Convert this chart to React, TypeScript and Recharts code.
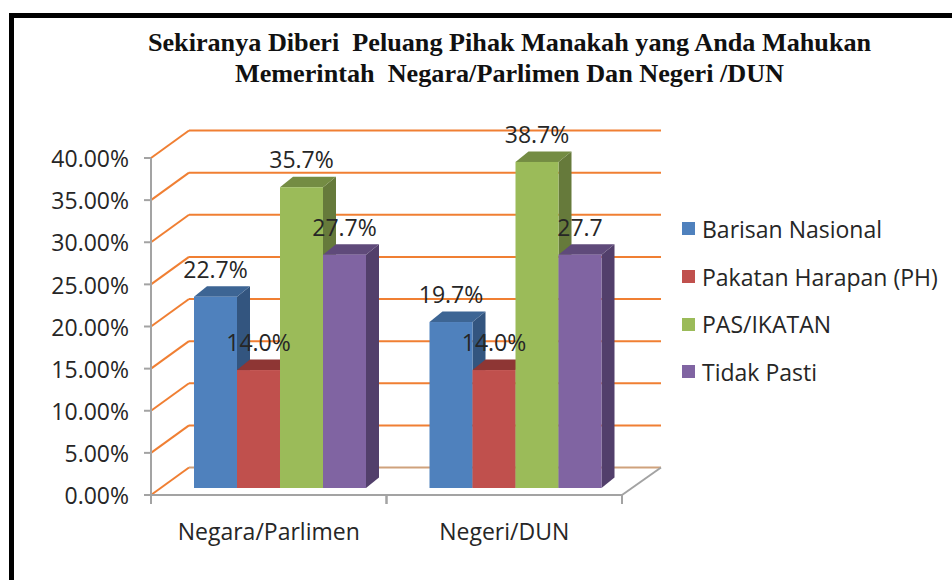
import { Bar, CartesianGrid, ComposedChart, LabelList, Legend, XAxis, YAxis } from "recharts";

// ── Data ─────────────────────────────────────────────────────────────
const categories = ["Negara/Parlimen", "Negeri/DUN"];
const barisanNasional = [22.7, 19.7];
const pakatanHarapan = [14.0, 14.0];
const pasIkatan = [35.7, 38.7];
const tidakPasti = [27.7, 27.7];
const yTicks = [0, 5, 10, 15, 20, 25, 30, 35, 40];

// the source chart drops the % on one label
const barisanLabels = ["22.7%", "19.7%"];
const pakatanLabels = ["14.0%", "14.0%"];
const pasLabels = ["35.7%", "38.7%"];
const tidakPastiLabels = ["27.7%", "27.7"];

const titleLines = [
  "Sekiranya Diberi  Peluang Pihak Manakah yang Anda Mahukan",
  "Memerintah  Negara/Parlimen Dan Negeri /DUN",
];

const rows = categories.map((name, i) => ({
  name,
  barisan: barisanNasional[i],
  pakatan: pakatanHarapan[i],
  pas: pasIkatan[i],
  tidak: tidakPasti[i],
}));

const seriesList = [
  { key: "barisan", name: "Barisan Nasional", front: "#4F81BD", top: "#3D6594", side: "#33557F", labels: barisanLabels },
  { key: "pakatan", name: "Pakatan Harapan (PH)", front: "#C0504D", top: "#8E3634", side: "#7A2E2C", labels: pakatanLabels },
  { key: "pas", name: "PAS/IKATAN", front: "#9BBB59", top: "#748C43", side: "#667A3B", labels: pasLabels },
  { key: "tidak", name: "Tidak Pasti", front: "#8064A2", top: "#5F4A7A", side: "#523F6B", labels: tidakPastiLabels },
];

// ── Layout ───────────────────────────────────────────────────────────
const WIDTH = 952;
const HEIGHT = 580;
const PLOT = { left: 151, right: 622, top: 158, bottom: 495 };
const BAND = (PLOT.right - PLOT.left) / categories.length;

// 3D look: back wall offset, and where the bars stand on the floor
const WALL_DX = 38;
const WALL_DY = 27.5;
const BAR_SHIFT_X = 12;
const BAR_SHIFT_Y = -7;
const DEPTH_DX = 13;
const DEPTH_DY = 10.5;

const AXIS_GREY = "#A3A3A3";
const GRID_ORANGE = "#F07F33";
const FLOOR_TAN = "#CFA27C";
const TEXT = "#262626";
const FONT = "'Open Sans', sans-serif";
const FONT_SIZE = 23;

function GridLine3D(props: any) {
  const { x1, x2, y1 } = props;
  const isFloor = Math.abs(y1 - PLOT.bottom) < 1;
  const bx1 = x1 + WALL_DX;
  const bx2 = x2 + WALL_DX + 1;
  const by = y1 - WALL_DY;
  return (
    <g>
      <line x1={x1} y1={y1} x2={bx1} y2={by} stroke={GRID_ORANGE} strokeWidth={2} />
      <line x1={bx1} y1={by} x2={bx2} y2={by} stroke={isFloor ? FLOOR_TAN : GRID_ORANGE} strokeWidth={2} />
      {isFloor ? <line x1={bx2} y1={by} x2={x2} y2={y1} stroke={AXIS_GREY} strokeWidth={2} /> : null}
    </g>
  );
}

function Bar3D(props: any) {
  const { x, y, width, height, front, top, side } = props;
  const l = x + BAR_SHIFT_X;
  const r = l + width;
  const t = y + BAR_SHIFT_Y;
  const b = t + height;
  return (
    <g>
      <polygon points={`${r},${t} ${r + DEPTH_DX},${t - DEPTH_DY} ${r + DEPTH_DX},${b - DEPTH_DY} ${r},${b}`} fill={side} />
      <polygon points={`${l},${t} ${l + DEPTH_DX},${t - DEPTH_DY} ${r + DEPTH_DX},${t - DEPTH_DY} ${r},${t}`} fill={top} />
      <rect x={l} y={t} width={width} height={height} fill={front} />
    </g>
  );
}

function ValueLabel(props: any) {
  const { x, y, width, index, labels } = props;
  return (
    <text
      x={x + BAR_SHIFT_X + width / 2}
      y={y + BAR_SHIFT_Y - 28}
      textAnchor="middle"
      dominantBaseline="central"
      fontFamily={FONT}
      fontSize={FONT_SIZE}
      fill={TEXT}
    >
      {labels[index]}
    </text>
  );
}

function CategoryTick(props: any) {
  const { x, payload } = props;
  return (
    <g>
      <line x1={x - BAND / 2} y1={PLOT.bottom} x2={x - BAND / 2} y2={PLOT.bottom + 9} stroke={AXIS_GREY} strokeWidth={2} />
      <line x1={x + BAND / 2} y1={PLOT.bottom} x2={x + BAND / 2} y2={PLOT.bottom + 9} stroke={AXIS_GREY} strokeWidth={2} />
      <text x={x} y={531} textAnchor="middle" dominantBaseline="central" fontFamily={FONT} fontSize={FONT_SIZE} fill={TEXT}>
        {payload.value}
      </text>
    </g>
  );
}

function LegendBox(props: any) {
  const items = (props.payload || []).filter((p: any) => p.type !== "none");
  return (
    <div style={{ display: "flex", flexDirection: "column", gap: 0 }}>
      {items.map((p: any) => (
        <div key={p.value} style={{ display: "flex", alignItems: "center", height: 47.7 }}>
          <span style={{ width: 13, height: 13, background: p.color, marginRight: 7, flex: "none" }} />
          <span style={{ fontFamily: FONT, fontSize: FONT_SIZE, color: TEXT, whiteSpace: "nowrap" }}>{p.value}</span>
        </div>
      ))}
    </div>
  );
}

export default function App() {
  return (
    <div style={{ position: "relative", width: WIDTH, height: HEIGHT, background: "#fff", overflow: "hidden" }}>
      <style>{"html,body{margin:0;padding:0;background:#fff}"}</style>
      {/* black frame: only top and left survive the crop */}
      <div style={{ position: "absolute", left: 9, top: 13, width: WIDTH, height: HEIGHT, borderTop: "5px solid #000", borderLeft: "5px solid #000" }} />
      <div
        style={{
          position: "absolute",
          left: 0,
          top: 28,
          width: 1019,
          textAlign: "center",
          fontFamily: "'Liberation Serif', serif",
          fontWeight: 700,
          fontSize: 26.2,
          lineHeight: "30.5px",
          color: "#111",
          whiteSpace: "pre",
        }}
      >
        {titleLines.map((line) => (
          <div key={line}>{line}</div>
        ))}
      </div>
      <ComposedChart
        width={WIDTH}
        height={HEIGHT}
        data={rows}
        barGap={0}
        barCategoryGap={31}
        margin={{ top: PLOT.top, right: WIDTH - PLOT.right, bottom: HEIGHT - PLOT.bottom - 45, left: PLOT.left - 130 }}
      >
        <CartesianGrid vertical={false} horizontal={(p: any) => <GridLine3D key={p.key ?? p.y1} {...p} />} />
        <XAxis
          dataKey="name"
          height={45}
          interval={0}
          tick={<CategoryTick />}
          tickLine={false}
          axisLine={{ stroke: AXIS_GREY, strokeWidth: 2 }}
        />
        {/* second, hidden axis: carries the label-only bars so the text sits on top of every bar */}
        <XAxis xAxisId="labels" dataKey="name" hide />
        <YAxis
          width={130}
          domain={[0, 40]}
          ticks={yTicks}
          interval={0}
          tickFormatter={(v: number) => `${v.toFixed(2)}%`}
          tick={{ fill: TEXT, fontFamily: FONT, fontSize: FONT_SIZE, dy: 1 }}
          tickLine={{ stroke: AXIS_GREY, strokeWidth: 2 }}
          tickSize={7}
          tickMargin={15}
          axisLine={{ stroke: AXIS_GREY, strokeWidth: 2 }}
        />
        <Legend
          layout="vertical"
          align="center"
          verticalAlign="middle"
          itemSorter={null}
          content={<LegendBox />}
          wrapperStyle={{ position: "absolute", left: 682, top: 205, width: 270 }}
        />
        {seriesList.map((s) => (
          <Bar
            key={s.key}
            dataKey={s.key}
            name={s.name}
            fill={s.front}
            isAnimationActive={false}
            shape={(p: any) => <Bar3D {...p} front={s.front} top={s.top} side={s.side} />}
          />
        ))}
        {seriesList.map((s) => (
          <Bar
            key={`${s.key}-labels`}
            xAxisId="labels"
            dataKey={s.key}
            fill="none"
            legendType="none"
            isAnimationActive={false}
          >
            <LabelList dataKey={s.key} content={(p: any) => <ValueLabel {...p} labels={s.labels} />} />
          </Bar>
        ))}
      </ComposedChart>
    </div>
  );
}
